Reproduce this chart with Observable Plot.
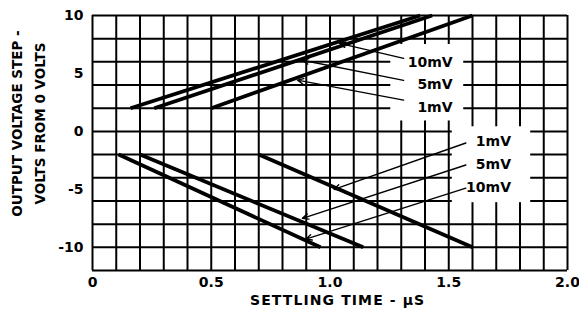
<!DOCTYPE html>
<html>
<head>
<meta charset="utf-8">
<script src="https://cdn.jsdelivr.net/npm/d3@7"></script>
<script src="https://cdn.jsdelivr.net/npm/@observablehq/plot@0.6"></script>
<style>
  html, body { margin: 0; padding: 0; background: #fff; }
  svg text { font-family: "DejaVu Sans", sans-serif; font-weight: bold; }
</style>
</head>
<body>
<div id="chart"></div>
<script>
// Positive steps (0 V -> +V): accuracy bands
const posLabels = ["10mV", "5mV", "1mV"];
const posStartX = [0.16, 0.26, 0.5];   // settling time at +2 V
const posEndX   = [1.38, 1.43, 1.6];   // settling time at +10 V
const posStartY = 2;
const posEndY   = 10;

// Negative steps (0 V -> -V)
const negLabels = ["10mV", "5mV", "1mV"];
const negStartX = [0.11, 0.2, 0.7];    // settling time at -2 V
const negEndX   = [0.96, 1.14, 1.6];   // settling time at -10 V
const negStartY = -2;
const negEndY   = -10;

// Callout annotations
const posCallLabels = ["10mV", "5mV", "1mV"];
const posCallTextY  = [5.94, 4.08, 2.08];
const posCallFromY  = [6.3, 4.4, 2.7];
const posCallToX    = [1.04, 0.884, 0.863];
const posCallToY    = [7.6, 6.14, 4.42];

const negCallLabels = ["1mV", "5mV", "10mV"];
const negCallTextY  = [-0.88, -2.88, -4.88];
const negCallFromY  = [-1.0, -2.9, -4.9];
const negCallToX    = [1.017, 0.884, 0.898];
const negCallToY    = [-5.0, -7.5, -9.3];

// Axis ticks
const xTicks = [0, 0.5, 1.0, 1.5, 2.0];
const xTickLabels = ["0", "0.5", "1.0", "1.5", "2.0"];
const yTicks = [10, 5, 0, -5, -10];
const yTickLabels = ["10", "5", "0", "-5", "-10"];

// Titles
const xTitle = "SETTLING TIME - \u00B5S";
const yTitle1 = "OUTPUT VOLTAGE STEP -";
const yTitle2 = "VOLTS FROM 0 VOLTS";

// Build tables
const lines = [];
posLabels.forEach((s, i) => {
  lines.push({series: "pos " + s, x: posStartX[i], y: posStartY});
  lines.push({series: "pos " + s, x: posEndX[i], y: posEndY});
});
negLabels.forEach((s, i) => {
  lines.push({series: "neg " + s, x: negStartX[i], y: negStartY});
  lines.push({series: "neg " + s, x: negEndX[i], y: negEndY});
});

const posCalls = posCallLabels.map((t, i) => ({t, ty: posCallTextY[i], fy: posCallFromY[i], tx: posCallToX[i], toy: posCallToY[i]}));
const negCalls = negCallLabels.map((t, i) => ({t, ty: negCallTextY[i], fy: negCallFromY[i], tx: negCallToX[i], toy: negCallToY[i]}));

const gridX = d3.range(0, 21).map(i => i / 10);
const gridY = d3.range(-12, 11, 2);

const boxes = [
  {x1: 1.256, x2: 1.563, y1: 0.9, y2: 7.5},
  {x1: 1.515, x2: 1.845, y1: -6.15, y2: 0.4}
];

const chart = Plot.plot({
  width: 579,
  height: 321,
  marginLeft: 92,
  marginRight: 12,
  marginTop: 15,
  marginBottom: 51,
  style: {background: "#fff", color: "#000", fontSize: "14px", fontWeight: "bold", fontFamily: "DejaVu Sans"},
  x: {domain: [0, 2], ticks: xTicks, tickFormat: d => xTickLabels[xTicks.indexOf(d)], tickSize: 0, tickPadding: 7, label: null},
  y: {domain: [-12, 10], ticks: yTicks, tickFormat: d => yTickLabels[yTicks.indexOf(d)], tickSize: 0, tickPadding: 9, label: null},
  marks: [
    Plot.ruleX(gridX, {stroke: "#000", strokeWidth: 2}),
    Plot.ruleY(gridY, {stroke: "#000", strokeWidth: 2}),
    Plot.rect(boxes, {x1: "x1", x2: "x2", y1: "y1", y2: "y2", fill: "#fff"}),
    Plot.line(lines, {x: "x", y: "y", z: "series", stroke: "#000", strokeWidth: 3.8, strokeLinecap: "butt"}),
    Plot.arrow(posCalls, {x1: 1.31, y1: "fy", x2: "tx", y2: "toy", stroke: "#000", strokeWidth: 1.4, headLength: 7, headAngle: 50}),
    Plot.arrow(negCalls, {x1: 1.572, y1: "fy", x2: "tx", y2: "toy", stroke: "#000", strokeWidth: 1.4, headLength: 7, headAngle: 50}),
    Plot.text(posCalls, {x: 1.516, y: "ty", text: "t", textAnchor: "end", fontSize: 14, fontWeight: "bold", fill: "#000"}),
    Plot.text(negCalls, {x: 1.762, y: "ty", text: "t", textAnchor: "end", fontSize: 14, fontWeight: "bold", fill: "#000"}),
    Plot.text([xTitle], {x: 1.032, y: -14.59, text: d => d, fontSize: 14, fontWeight: "bold", fill: "#000"}),
    Plot.text([yTitle1], {x: -0.317, y: 0.68, text: d => d, rotate: -90, fontSize: 13.5, fontWeight: "bold", fill: "#000"}),
    Plot.text([yTitle2], {x: -0.219, y: 0.68, text: d => d, rotate: -90, fontSize: 13.5, fontWeight: "bold", fill: "#000"})
  ]
});
// widen the x title like the original lettering
d3.select(chart).selectAll("text").filter(function() { return this.textContent === xTitle; })
  .style("letter-spacing", "1.1px");
document.getElementById("chart").appendChild(chart);
</script>
</body>
</html>
